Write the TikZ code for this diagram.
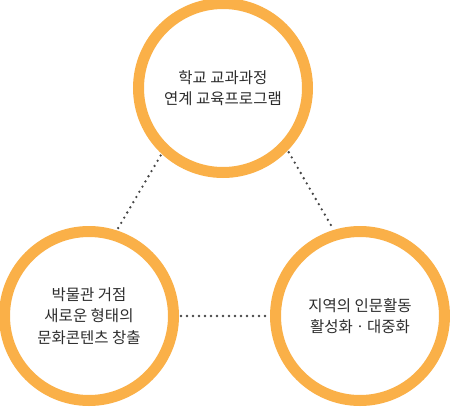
\documentclass[tikz,border=0pt]{standalone}
\usepackage{fontspec}
\newfontfamily\kfont{Noto Sans CJK KR}
\definecolor{ringorange}{RGB}{250,176,72}
\definecolor{dotgray}{RGB}{70,70,70}
\definecolor{txtgray}{RGB}{45,45,45}
\begin{document}
\begin{tikzpicture}[x=1pt,y=-1pt,
  ring/.style={circle,draw=ringorange,line width=11pt,fill=white,minimum size=169pt,inner sep=0pt,
    align=center,text=txtgray,font=\kfont\fontsize{15.5}{21.5}\selectfont},
  dotline/.style={draw=dotgray,line width=2.6pt,line cap=round,dash pattern=on 0pt off 6pt,shorten <=2pt,shorten >=2pt}]
\useasboundingbox (0,0) rectangle (450,407);
\node[ring] (top) at (223,88) {학교 교과과정\\연계 교육프로그램};
\node[ring] (bl) at (89,316) {박물관 거점\\새로운 형태의\\문화콘텐츠 창출};
\node[ring] (br) at (360,316) {지역의 인문활동\\활성화ㆍ대중화};
\draw[dotline] (top.227) -- (bl.72);
\draw[dotline] (top.316) -- (br.107);
\draw[dotline] (bl) -- (br);
\end{tikzpicture}
\end{document}
